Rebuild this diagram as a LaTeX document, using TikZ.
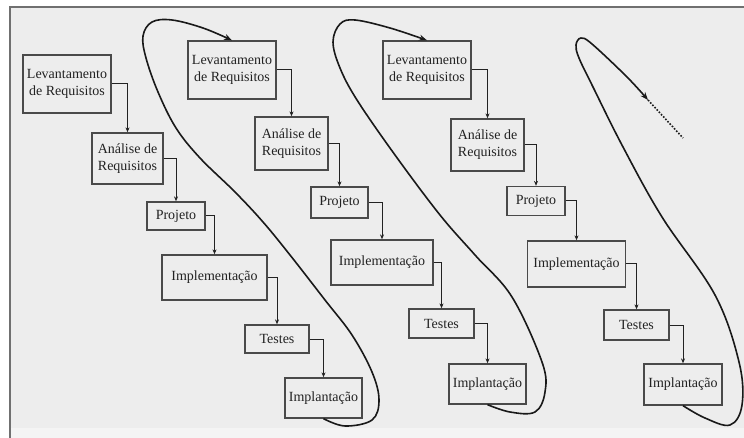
\documentclass[tikz,border=0pt]{standalone}
\usepackage{fontspec}
\setmainfont{Liberation Serif}
\usetikzlibrary{arrows.meta}
\definecolor{bgc}{HTML}{EDEDED}
\definecolor{bandc}{HTML}{F4F4F4}
\definecolor{framec}{HTML}{707070}
\definecolor{boxc}{HTML}{4A4A4A}
\definecolor{inkc}{HTML}{222222}
\tikzset{
  stagebox/.style={draw=boxc, line width=1.3pt, inner sep=0pt, align=center,
    text=inkc, font=\fontsize{14}{17}\selectfont},
  conn/.style={draw=inkc, line width=1pt, -{Stealth[length=5pt,width=4pt]}},
  loopline/.style={draw=black!90, line width=1.6pt, -{Stealth[length=8pt,width=6pt]}},
  dotline/.style={draw=black!90, line width=1.6pt, dash pattern=on 1.6pt off 1.6pt},
}
\begin{document}
\begin{tikzpicture}[x=1pt,y=-1pt]
\useasboundingbox (0,0) rectangle (744,438);
\fill[white] (0,0) rectangle (744,438);
\fill[bgc] (10,7) rectangle (744,438);
\fill[bandc] (11,428) rectangle (744,438);
\draw[framec, line width=1.8pt] (10,438) -- (10,7) -- (744,7);

% column 1
\node[stagebox, minimum width=88pt, minimum height=58pt] (L1) at (67,84) {Levantamento\\de Requisitos};
\node[stagebox, minimum width=71pt, minimum height=51pt] (A1) at (127.5,158.5) {Análise de\\Requisitos};
\node[stagebox, minimum width=58pt, minimum height=28pt] (P1) at (176,216) {Projeto};
\node[stagebox, minimum width=105pt, minimum height=45pt] (I1) at (214.5,277.5) {Implementação};
\node[stagebox, minimum width=64pt, minimum height=28pt] (T1) at (277,339) {Testes};
\node[stagebox, minimum width=77pt, minimum height=40pt] (M1) at (323.5,398) {Implantação};

% column 2
\node[stagebox, minimum width=88pt, minimum height=58pt] (L2) at (232,70) {Levantamento\\de Requisitos};
\node[stagebox, minimum width=73pt, minimum height=53pt] (A2) at (291.5,143.5) {Análise de\\Requisitos};
\node[stagebox, minimum width=57pt, minimum height=31pt] (P2) at (339.5,202.5) {Projeto};
\node[stagebox, minimum width=102pt, minimum height=45pt] (I2) at (382,262.5) {Implementação};
\node[stagebox, minimum width=65pt, minimum height=29pt] (T2) at (441.5,323.5) {Testes};
\node[stagebox, minimum width=77pt, minimum height=40pt] (M2) at (487.5,384) {Implantação};

% column 3
\node[stagebox, minimum width=88pt, minimum height=58pt] (L3) at (427,70) {Levantamento\\de Requisitos};
\node[stagebox, minimum width=73pt, minimum height=52pt] (A3) at (487.5,145) {Análise de\\Requisitos};
\node[stagebox, minimum width=58pt, minimum height=29pt] (P3) at (536,201) {Projeto};
\node[stagebox, minimum width=98pt, minimum height=46pt] (I3) at (576.5,264) {Implementação};
\node[stagebox, minimum width=65pt, minimum height=30pt] (T3) at (636.5,325) {Testes};
\node[stagebox, minimum width=78pt, minimum height=41pt] (M3) at (683,384.5) {Implantação};

% connectors
\foreach \c in {1,2,3}{
  \draw[conn] (L\c.east) -| (A\c.north);
  \draw[conn] (A\c.east) -| (P\c.north);
  \draw[conn] (P\c.east) -| (I\c.north);
  \draw[conn] (I\c.east) -| (T\c.north);
  \draw[conn] (T\c.east) -| (M\c.north);
}

% loops
\draw[loopline] plot[smooth, tension=0.6] coordinates {(M1.south) (345,426) (372,420) (379,400) (372,372) (352,335) (325,300) (290,255) (263,222) (235,192) (200,158) (176,128) (158,92) (146,58) (143,36) (152,22) (172,20) (203,28) (L2.north)};
\draw[loopline] plot[smooth, tension=0.6] coordinates {(M2.south) (510,412) (535,412) (545,392) (542,362) (512,297) (475,255) (440,215) (395,155) (357,100) (340,68) (333,42) (340,24) (355,20) (390,28) (L3.north)};
\coordinate (loopend) at (648,100);
\coordinate (dotend) at (683,138);
\draw[loopline] plot[smooth, tension=0.6] coordinates {(M3.south) (705,418) (730,425) (742,405) (739,362) (715,295) (662,217) (623,147) (593,87) (579,58) (576,45) (581,38) (592,44) (627,77) (loopend)};
\draw[dotline] (loopend) -- (dotend);
\end{tikzpicture}
\end{document}
